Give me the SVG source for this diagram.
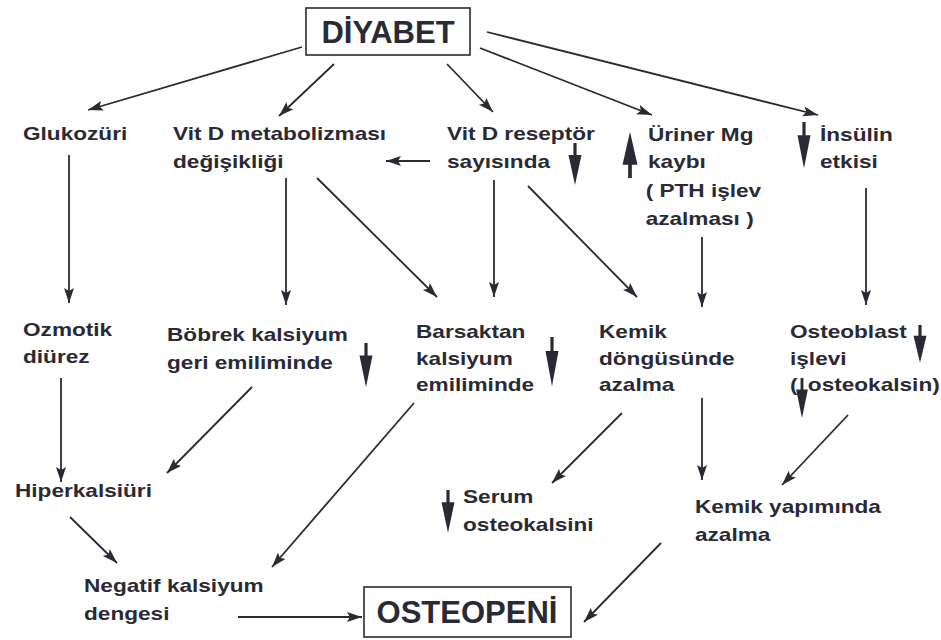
<svg xmlns="http://www.w3.org/2000/svg" width="941" height="640" viewBox="0 0 941 640">
<defs>
<style>
.t{font-family:"Liberation Sans",Arial,sans-serif;font-weight:bold;font-size:19px;fill:#2a2a35}
.big{font-family:"Liberation Sans",Arial,sans-serif;font-weight:bold;font-size:31px;fill:#2a2a35}
.box{fill:none;stroke:#2a2a35;stroke-width:1.6}
.c{stroke:#2a2a35;stroke-width:1.8;fill:none;marker-end:url(#ah)}
.sym{fill:#2a2a35}
</style>
<marker id="ah" markerUnits="userSpaceOnUse" markerWidth="16" markerHeight="12" refX="15" refY="5" orient="auto">
<path d="M0,0 L15,5 L0,10 L3,5 Z" fill="#2a2a35"/>
</marker>
<path id="bigdown" d="M-1.6,0 H1.6 V12 H6.5 L0,42 L-6.5,12 H-1.6 Z"/>
</defs>
<rect width="941" height="640" fill="#ffffff"/>

<g id="connectors">
<line class="c" x1="302" y1="47" x2="88" y2="110"/>
<line class="c" x1="334" y1="64" x2="279" y2="116"/>
<line class="c" x1="447" y1="64" x2="493" y2="112"/>
<line class="c" x1="480" y1="48" x2="652" y2="115"/>
<line class="c" x1="487" y1="32" x2="818" y2="115"/>
<line class="c" x1="430" y1="161" x2="386" y2="161"/>
<line class="c" x1="69" y1="155" x2="69" y2="303"/>
<line class="c" x1="286" y1="178" x2="286" y2="305"/>
<line class="c" x1="317" y1="178" x2="437" y2="297"/>
<line class="c" x1="494" y1="180" x2="494" y2="297"/>
<line class="c" x1="528" y1="186" x2="637" y2="297"/>
<line class="c" x1="702" y1="237" x2="702" y2="307"/>
<line class="c" x1="866" y1="188" x2="866" y2="305"/>
<line class="c" x1="61" y1="378" x2="61" y2="482"/>
<line class="c" x1="252" y1="387" x2="167" y2="473"/>
<line class="c" x1="414" y1="403" x2="272" y2="567"/>
<line class="c" x1="622" y1="413" x2="552" y2="483"/>
<line class="c" x1="702" y1="398" x2="702" y2="480"/>
<line class="c" x1="848" y1="415" x2="782" y2="485"/>
<line class="c" x1="70" y1="517" x2="117" y2="563"/>
<line class="c" x1="238" y1="617" x2="362" y2="617"/>
<line class="c" x1="661" y1="543" x2="584" y2="622"/>
</g>

<g id="diyabet">
<rect class="box" x="306" y="8" width="164" height="47"/>
<text class="big" x="388" y="43" text-anchor="middle">DİYABET</text>
</g>

<g id="glukozuri" transform="translate(23,140) scale(1.19,1)">
<text class="t"><tspan x="0" y="0">Glukozüri</tspan></text>
</g>

<g id="vitd-metabolizma" transform="translate(173,140) scale(1.19,1)">
<text class="t"><tspan x="0" y="0">Vit D metabolizması</tspan><tspan x="0" y="28">değişikliği</tspan></text>
</g>

<g id="vitd-reseptor">
<g transform="translate(447,140) scale(1.19,1)">
<text class="t"><tspan x="0" y="0">Vit D reseptör</tspan><tspan x="0" y="28">sayısında</tspan></text>
</g>
<use href="#bigdown" class="sym" transform="translate(575,143)"/>
</g>

<g id="uriner-mg">
<use href="#bigdown" class="sym" transform="translate(630,178) scale(1.15,-1.1)"/>
<g transform="translate(648,141) scale(1.19,1)">
<text class="t"><tspan x="0" y="0">Üriner Mg</tspan><tspan x="0" y="27">kaybı</tspan><tspan x="-2" y="56">( PTH işlev</tspan><tspan x="-2" y="84">azalması )</tspan></text>
</g>
</g>

<g id="insulin">
<use href="#bigdown" class="sym" transform="translate(804,122) scale(1,1.1)"/>
<g transform="translate(820,141) scale(1.19,1)">
<text class="t"><tspan x="0" y="0">İnsülin</tspan><tspan x="0" y="27">etkisi</tspan></text>
</g>
</g>

<g id="ozmotik" transform="translate(23,336) scale(1.19,1)">
<text class="t"><tspan x="0" y="0">Ozmotik</tspan><tspan x="0" y="27">diürez</tspan></text>
</g>

<g id="bobrek">
<g transform="translate(167,341) scale(1.19,1)">
<text class="t"><tspan x="0" y="0">Böbrek kalsiyum</tspan><tspan x="0" y="28">geri emiliminde</tspan></text>
</g>
<use href="#bigdown" class="sym" transform="translate(366,343) scale(1,1.05)"/>
</g>

<g id="barsaktan">
<g transform="translate(416,338) scale(1.19,1)">
<text class="t"><tspan x="0" y="0">Barsaktan</tspan><tspan x="0" y="27">kalsiyum</tspan><tspan x="0" y="53">emiliminde</tspan></text>
</g>
<use href="#bigdown" class="sym" transform="translate(552,337) scale(1,1.17)"/>
</g>

<g id="kemik-dongusu" transform="translate(599,338) scale(1.19,1)">
<text class="t"><tspan x="0" y="0">Kemik</tspan><tspan x="0" y="27">döngüsünde</tspan><tspan x="0" y="53">azalma</tspan></text>
</g>

<g id="osteoblast">
<g transform="translate(790,338) scale(1.19,1)">
<text class="t"><tspan x="0" y="0">Osteoblast</tspan><tspan x="0" y="27">işlevi</tspan><tspan x="0" y="53">(</tspan><tspan x="15" y="53">osteokalsin)</tspan></text>
</g>
<use href="#bigdown" class="sym" transform="translate(920,325) scale(1,0.9)"/>
<use href="#bigdown" class="sym" transform="translate(802,378) scale(0.9,0.95)"/>
</g>

<g id="hiperkalsiuri" transform="translate(15,497) scale(1.19,1)">
<text class="t"><tspan x="0" y="0">Hiperkalsiüri</tspan></text>
</g>

<g id="serum-osteokalsin">
<use href="#bigdown" class="sym" transform="translate(448,490) scale(1,1.02)"/>
<g transform="translate(463,503) scale(1.19,1)">
<text class="t"><tspan x="0" y="0">Serum</tspan><tspan x="0" y="28">osteokalsini</tspan></text>
</g>
</g>

<g id="kemik-yapimi" transform="translate(695,513) scale(1.19,1)">
<text class="t"><tspan x="0" y="0">Kemik yapımında</tspan><tspan x="0" y="28">azalma</tspan></text>
</g>

<g id="negatif-kalsiyum" transform="translate(84,592) scale(1.19,1)">
<text class="t"><tspan x="0" y="0">Negatif kalsiyum</tspan><tspan x="0" y="28">dengesi</tspan></text>
</g>

<g id="osteopeni">
<rect class="box" x="364" y="587" width="207" height="50"/>
<text class="big" x="467" y="623" text-anchor="middle">OSTEOPENİ</text>
</g>
</svg>
